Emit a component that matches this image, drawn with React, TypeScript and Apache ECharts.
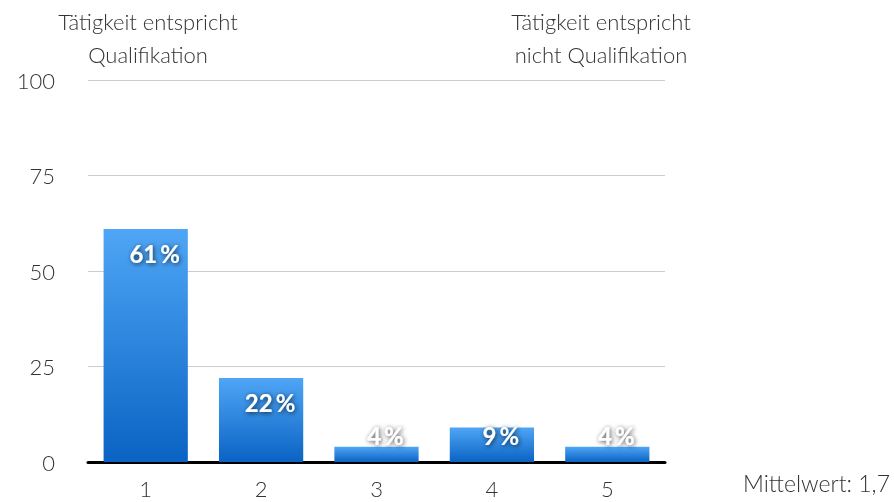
import React, { useEffect, useRef } from "react";
import * as echarts from "echarts";

const categories = ["1", "2", "3", "4", "5"];
const values = [61, 22, 4, 9, 4];
const yTicks = { min: 0, max: 100, interval: 25 };
const leftNote = "Tätigkeit entspricht\nQualifikation";
const rightNote = "Tätigkeit entspricht\nnicht Qualifikation";
const meanNote = "Mittelwert: 1,7";

const FONT = "Lato";

export default function App() {
  const ref = useRef<HTMLDivElement>(null);
  useEffect(() => {
    if (!ref.current) return;
    const chart = echarts.init(ref.current, undefined, { renderer: "svg" });
    const labelBase = {
      show: true,
      formatter: "{c}\u2009%",
      color: "#fff",
      fontFamily: FONT,
      fontWeight: "bold" as const,
      fontSize: 24,
      textShadowColor: "rgba(0,0,0,0.75)",
      textShadowBlur: 5,
      textShadowOffsetX: 1,
      textShadowOffsetY: 1,
      offset: [9, 0],
    };
    const data = values.map((v) => ({
      value: v,
      label:
        v >= 15
          ? { ...labelBase, position: "insideTop", distance: 13 }
          : { ...labelBase, position: "insideBottom", distance: 15 },
    }));
    chart.setOption({
      animation: false,
      grid: { left: 88, right: 229, top: 80, bottom: 40 },
      xAxis: {
        type: "category",
        data: categories,
        axisLine: { show: true, lineStyle: { color: "#000", width: 3 } },
        axisTick: { show: false },
        axisLabel: {
          color: "#333",
          fontFamily: FONT,
          fontWeight: 300,
          fontSize: 22,
          margin: 15,
        },
      },
      yAxis: {
        type: "value",
        min: yTicks.min,
        max: yTicks.max,
        interval: yTicks.interval,
        axisLine: { show: false },
        axisTick: { show: false },
        splitLine: { lineStyle: { color: "#cccccc", width: 1 } },
        axisLabel: {
          color: "#333",
          fontFamily: FONT,
          fontWeight: 300,
          fontSize: 22,
          margin: 33,
        },
      },
      series: [
        {
          type: "bar",
          data,
          barWidth: "73%",
          itemStyle: {
            color: new echarts.graphic.LinearGradient(0, 0, 0, 1, [
              { offset: 0, color: "#4fa6f6" },
              { offset: 1, color: "#0a63c3" },
            ]),
          },
        },
      ],
      graphic: [
        {
          type: "text",
          x: 148,
          y: 5,
          style: {
            text: leftNote,
            fill: "#333",
            font: `300 22px ${FONT}`,
            align: "center",
            lineHeight: 33,
          },
        },
        {
          type: "text",
          x: 601,
          y: 5,
          style: {
            text: rightNote,
            fill: "#333",
            font: `300 22px ${FONT}`,
            align: "center",
            lineHeight: 33,
          },
        },
        {
          type: "text",
          right: 4,
          top: 471,
          style: {
            text: meanNote,
            fill: "#333",
            font: `300 23px ${FONT}`,
          },
        },
      ],
    });
    return () => chart.dispose();
  }, []);
  return (
    <div
      ref={ref}
      style={{ position: "fixed", left: 0, top: 0, width: 894, height: 502 }}
    />
  );
}
